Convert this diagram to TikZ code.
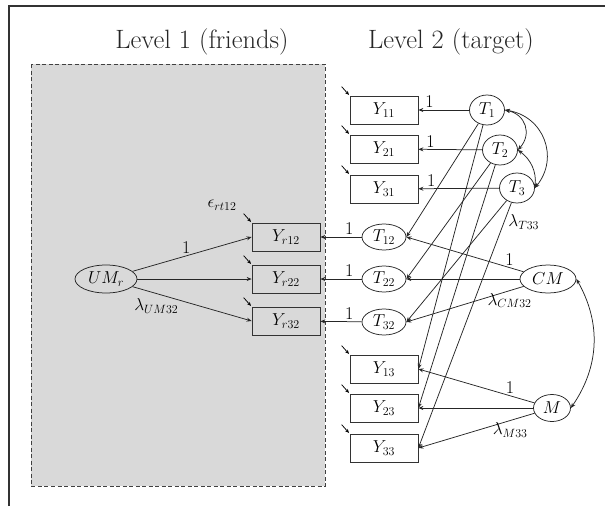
\documentclass[tikz,border=0pt]{standalone}
\usetikzlibrary{shapes.geometric,arrows.meta,calc}
\begin{document}
\begin{tikzpicture}[x=1pt,y=-1pt,
  every node/.style={font=\fontsize{18}{21}\selectfont},
  obs/.style={draw, black!80, text=black, line width=0.75pt, minimum width=68pt, minimum height=28pt, inner sep=0pt},
  lat/.style={draw, black!85, text=black, ellipse, line width=0.75pt, inner sep=0pt},
  arr/.style={-{Stealth[length=5pt,width=4pt]}, line width=0.75pt, black!85},
  errarr/.style={-{Stealth[length=4pt,width=3.5pt]}, line width=0.75pt, shorten >=1pt},
  cov/.style={{Stealth[length=5pt,width=4pt]}-{Stealth[length=5pt,width=4pt]}, line width=0.75pt, black!85},
  lab/.style={inner sep=2pt, text=black},
  ttl/.style={anchor=base, font=\fontsize{26.5}{30}\selectfont, text=black!85}
]
\useasboundingbox (0,0) rectangle (605,506);
% frame
\draw[line width=1.2pt, black!80] (9,506) -- (9,6) -- (605,6);
% level 1 box
\filldraw[fill=black!15, draw=black!75, line width=0.8pt, dash pattern=on 4pt off 2.5pt] (31,64) rectangle (325,486);
% titles
\node[ttl] (title1) at (202,48) {Level 1 (friends)};
\node[ttl] (title2) at (451,48) {Level 2 (target)};

% level 1 nodes
\node[lat, minimum width=62pt, minimum height=28pt] (UMr) at (106,279) {$UM_r$};
\node[obs] (Yr12) at (286,237) {$Y_{r12}$};
\node[obs] (Yr22) at (286,279) {$Y_{r22}$};
\node[obs] (Yr32) at (286,321) {$Y_{r32}$};
\node (eps) at (222,205) {$\epsilon_{rt12}$};

% level 2 nodes
\node[obs] (Y11) at (384,110) {$Y_{11}$};
\node[obs] (Y21) at (384,149) {$Y_{21}$};
\node[obs] (Y31) at (384,189) {$Y_{31}$};
\node[obs] (Y13) at (384,369) {$Y_{13}$};
\node[obs] (Y23) at (384,408) {$Y_{23}$};
\node[obs] (Y33) at (384,448) {$Y_{33}$};
\node[lat, minimum width=35pt, minimum height=30pt] (T1) at (487,110) {$T_1$};
\node[lat, minimum width=35pt, minimum height=30pt] (T2) at (500,150) {$T_2$};
\node[lat, minimum width=35pt, minimum height=30pt] (T3) at (517,188) {$T_3$};
\node[lat, minimum width=44pt, minimum height=26pt] (T12) at (384,237) {$T_{12}$};
\node[lat, minimum width=44pt, minimum height=26pt] (T22) at (384,279) {$T_{22}$};
\node[lat, minimum width=44pt, minimum height=26pt] (T32) at (384,322) {$T_{32}$};
\node[lat, minimum width=56pt, minimum height=28pt] (CM) at (548,279) {$CM$};
\node[lat, minimum width=37pt, minimum height=27pt] (M) at (552,408) {$M$};

% level 1 loadings
\draw[arr] (UMr) -- node[lab, pos=0.45, above] {1} (Yr12.west);
\draw[arr] (UMr) -- (Yr22);
\draw[arr] (UMr) -- node[lab, pos=0.2, below, yshift=-3pt] {$\lambda_{UM32}$} (Yr32.west);

% between-level
\draw[arr] (T12) -- node[lab, pos=0.3, above] {1} (Yr12);
\draw[arr] (T22) -- node[lab, pos=0.3, above] {1} (Yr22);
\draw[arr] (T32) -- node[lab, pos=0.3, above] {1} (Yr32);

% T loadings
\draw[arr] (T1) -- node[lab, pos=0.78, above] {1} (Y11);
\draw[arr] (T2) -- node[lab, pos=0.81, above] {1} (Y21);
\draw[arr] (T3) -- node[lab, pos=0.84, above] {1} (Y31);
\draw[arr] (T1) -- (T12.east);
\draw[arr] (T1) -- (Y13.east);
\draw[arr] (T2) -- (T22.east);
\draw[arr] (T2) -- (Y23.east);
\draw[arr] (T3) -- (T32.east);
\draw[arr] (T3) -- node[lab, pos=0.08, right, xshift=2pt] {$\lambda_{T33}$} (Y33.east);

% CM loadings
\draw[arr] (CM) -- node[lab, pos=0.12, above] {1} (T12.east);
\draw[arr] (CM) -- (T22.east);
\draw[arr] (CM) -- node[lab, pos=0.12, below] {$\lambda_{CM32}$} (T32.east);

% M loadings
\draw[arr] (M) -- node[lab, pos=0.21, above] {1} (Y13.east);
\draw[arr] (M) -- (Y23.east);
\draw[arr] (M) -- node[lab, pos=0.21, below] {$\lambda_{M33}$} (Y33.east);

% covariances
\draw[cov] (T1.east) to[bend left=60, looseness=1.3] (T2.east);
\draw[cov] (T2.east) to[bend left=30] (T3.east);
\draw[cov] (T1.east) to[bend left=60, looseness=1.2] (T3.east);
\draw[cov] (CM.east) to[bend left=32] (M.east);

% error arrows
\foreach \n in {Yr12,Yr22,Yr32,Y11,Y21,Y31,Y13,Y23,Y33} {
  \coordinate (e\n) at ($(\n.north west)+(-8,-9)$);
  \draw[errarr] (e\n) -- (\n.north west);
}
\end{tikzpicture}
\end{document}
